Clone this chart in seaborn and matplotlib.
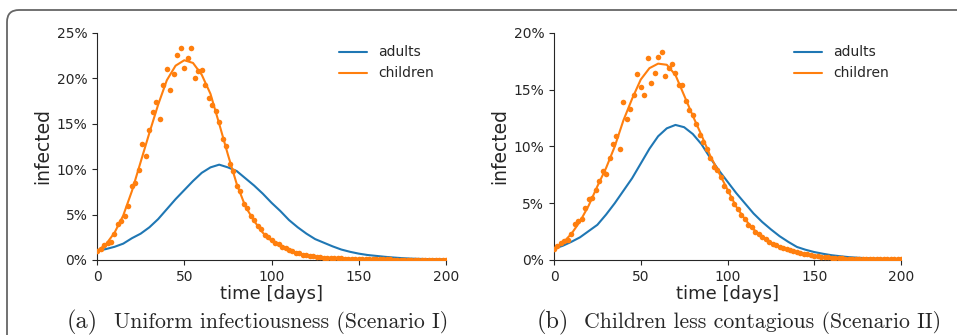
import numpy as np
import pandas as pd
import matplotlib
matplotlib.use("Agg")
import matplotlib.pyplot as plt
import matplotlib.patches as mpatches
from matplotlib.ticker import PercentFormatter
import seaborn as sns

sns.set_style("ticks")

# ---- data (percent infected) ----
line_days = list(range(0, 201, 5))
dot_days = list(range(0, 201, 2))

# Scenario I: uniform infectiousness
adults_a = [1.0, 1.2, 1.45, 1.8, 2.4, 2.9, 3.6, 4.5, 5.6, 6.7, 7.7, 8.7, 9.6, 10.2, 10.5,
            10.2, 9.8, 9.0, 8.2, 7.3, 6.3, 5.4, 4.4, 3.6, 2.9, 2.3, 1.9, 1.5, 1.15, 0.9,
            0.7, 0.55, 0.45, 0.35, 0.27, 0.2, 0.15, 0.12, 0.1, 0.08, 0.07]
children_a = [1.0, 1.7, 3.0, 4.9, 7.6, 10.8, 14.0, 17.1, 19.8, 21.4, 22.0, 21.7, 20.4, 18.3,
              15.0, 11.6, 8.4, 5.9, 4.3, 3.0, 2.1, 1.6, 1.1, 0.75, 0.5, 0.35, 0.27, 0.22,
              0.18, 0.15, 0.12, 0.1, 0.08, 0.06, 0.05, 0.04, 0.03, 0.03, 0.02, 0.02, 0.02]
children_dots_a = [1.0, 1.2, 1.7, 1.9, 2.0, 2.9, 4.0, 4.3, 4.8, 6.0,
                   8.2, 8.5, 9.9, 12.8, 11.5, 14.3, 16.3, 17.4, 15.5, 19.3,
                   21.0, 18.7, 20.5, 22.6, 23.3, 21.1, 22.3, 23.4, 20.0, 20.8,
                   20.9, 19.3, 17.8, 17.1, 16.4, 15.2, 13.3, 12.6, 10.6, 9.8,
                   8.1, 7.6, 6.2, 5.7, 4.8, 4.4, 3.7, 3.4, 2.7, 2.5,
                   2.2, 1.85, 1.75, 1.45, 1.35, 1.05, 1.0, 0.8, 0.72, 0.58,
                   0.52, 0.44, 0.4, 0.33, 0.3, 0.27, 0.25, 0.23, 0.21, 0.19,
                   0.18, 0.16, 0.15, 0.14, 0.13, 0.12, 0.11, 0.1, 0.1, 0.09,
                   0.08, 0.08, 0.07, 0.06, 0.06, 0.05, 0.05, 0.04, 0.04, 0.04,
                   0.03, 0.03, 0.03, 0.03, 0.02, 0.02, 0.02, 0.02, 0.02, 0.02,
                   0.02]

# Scenario II: children less contagious
adults_b = [1.0, 1.25, 1.6, 2.0, 2.55, 3.1, 4.0, 5.0, 6.1, 7.2, 8.5, 9.8, 10.9, 11.6, 11.9,
            11.7, 11.1, 10.2, 9.0, 7.9, 6.9, 5.9, 5.0, 4.1, 3.35, 2.7, 2.1, 1.6, 1.15, 0.9,
            0.7, 0.55, 0.42, 0.33, 0.25, 0.2, 0.16, 0.13, 0.11, 0.1, 0.09]
children_b = [1.0, 1.5, 2.3, 3.4, 4.8, 6.5, 8.1, 10.0, 12.3, 14.2, 15.9, 16.9, 17.3, 17.2,
              16.3, 14.5, 12.7, 11.0, 9.2, 7.7, 6.2, 4.7, 3.6, 2.7, 2.05, 1.55, 1.15, 0.9,
              0.7, 0.52, 0.38, 0.27, 0.2, 0.15, 0.12, 0.1, 0.08, 0.07, 0.06, 0.05, 0.05]
children_dots_b = [1.0, 1.2, 1.5, 1.7, 1.75, 2.3, 3.2, 3.4, 3.6, 4.6,
                   5.4, 5.5, 6.2, 7.0, 7.8, 7.6, 9.0, 10.2, 10.9, 9.8,
                   13.9, 12.4, 13.3, 14.5, 16.4, 15.2, 14.5, 17.8, 15.6, 16.5,
                   17.9, 18.3, 16.2, 16.9, 17.3, 16.5, 15.4, 15.4, 14.0, 13.2,
                   12.8, 12.0, 11.0, 10.4, 9.8, 9.0, 8.2, 7.9, 7.3, 6.5,
                   6.1, 5.5, 4.9, 4.5, 4.0, 3.6, 3.1, 2.9, 2.5, 2.3,
                   2.05, 1.85, 1.6, 1.45, 1.3, 1.15, 1.05, 0.95, 0.85, 0.78,
                   0.7, 0.62, 0.55, 0.5, 0.43, 0.38, 0.33, 0.29, 0.26, 0.22,
                   0.2, 0.18, 0.16, 0.14, 0.13, 0.12, 0.11, 0.1, 0.1, 0.09,
                   0.08, 0.08, 0.07, 0.07, 0.06, 0.06, 0.06, 0.05, 0.05, 0.05,
                   0.05]

panels = [
    ("(a)", "Uniform infectiousness (Scenario I)", adults_a, children_a, children_dots_a, 25),
    ("(b)", "Children less contagious (Scenario II)", adults_b, children_b, children_dots_b, 20),
]
palette = {"adults": "#1f77b4", "children": "#ff7f0e"}

fig = plt.figure(figsize=(9.57, 3.35), dpi=100)
axes = [fig.add_axes([0.1014, 0.2239, 0.3647, 0.6776]),
        fig.add_axes([0.5789, 0.2239, 0.3626, 0.6776])]
caption_x = [(67, 114), (537, 584)]

for ax, (tag, caption, adults, children, dots, ymax), (cx0, cx1) in zip(axes, panels, caption_x):
    lines = pd.DataFrame({
        "day": line_days * 2,
        "infected": adults + children,
        "group": ["adults"] * len(adults) + ["children"] * len(children),
    })
    pts = pd.DataFrame({"day": dot_days, "infected": dots})

    sns.lineplot(data=lines, x="day", y="infected", hue="group", hue_order=["adults", "children"],
                 palette=palette, linewidth=1.5, ax=ax)
    sns.scatterplot(data=pts, x="day", y="infected", color=palette["children"], s=16,
                    linewidth=0, legend=False, ax=ax, zorder=3)

    ax.set_xlim(0, 200)
    ax.set_ylim(0, ymax)
    ax.set_xticks([0, 50, 100, 150, 200])
    ax.set_yticks(list(range(0, ymax + 1, 5)))
    ax.yaxis.set_major_formatter(PercentFormatter(xmax=100, decimals=0))
    ax.tick_params(labelsize=10, length=3.5)
    ax.set_xlabel("time [days]", fontsize=13, labelpad=1)
    ax.set_ylabel("infected", fontsize=13.5, labelpad=3)
    sns.despine(ax=ax)
    ax.legend(frameon=False, fontsize=10, loc="upper right", title=None)

    fig.text(cx0 / 957, 0.021, tag, family="cmr10", fontsize=17.5, va="baseline", ha="left")
    fig.text(cx1 / 957, 0.021, caption, family="cmr10", fontsize=15.7, va="baseline", ha="left")

# rounded frame around the figure (partly cut off at right and bottom)
frame = mpatches.FancyBboxPatch((7, -40), 1000, 365, boxstyle="round,pad=0,rounding_size=12",
                                transform=None, facecolor="none", edgecolor="#666666",
                                linewidth=1.3)
fig.patches.append(frame)

fig.savefig("out.png", dpi=100)
